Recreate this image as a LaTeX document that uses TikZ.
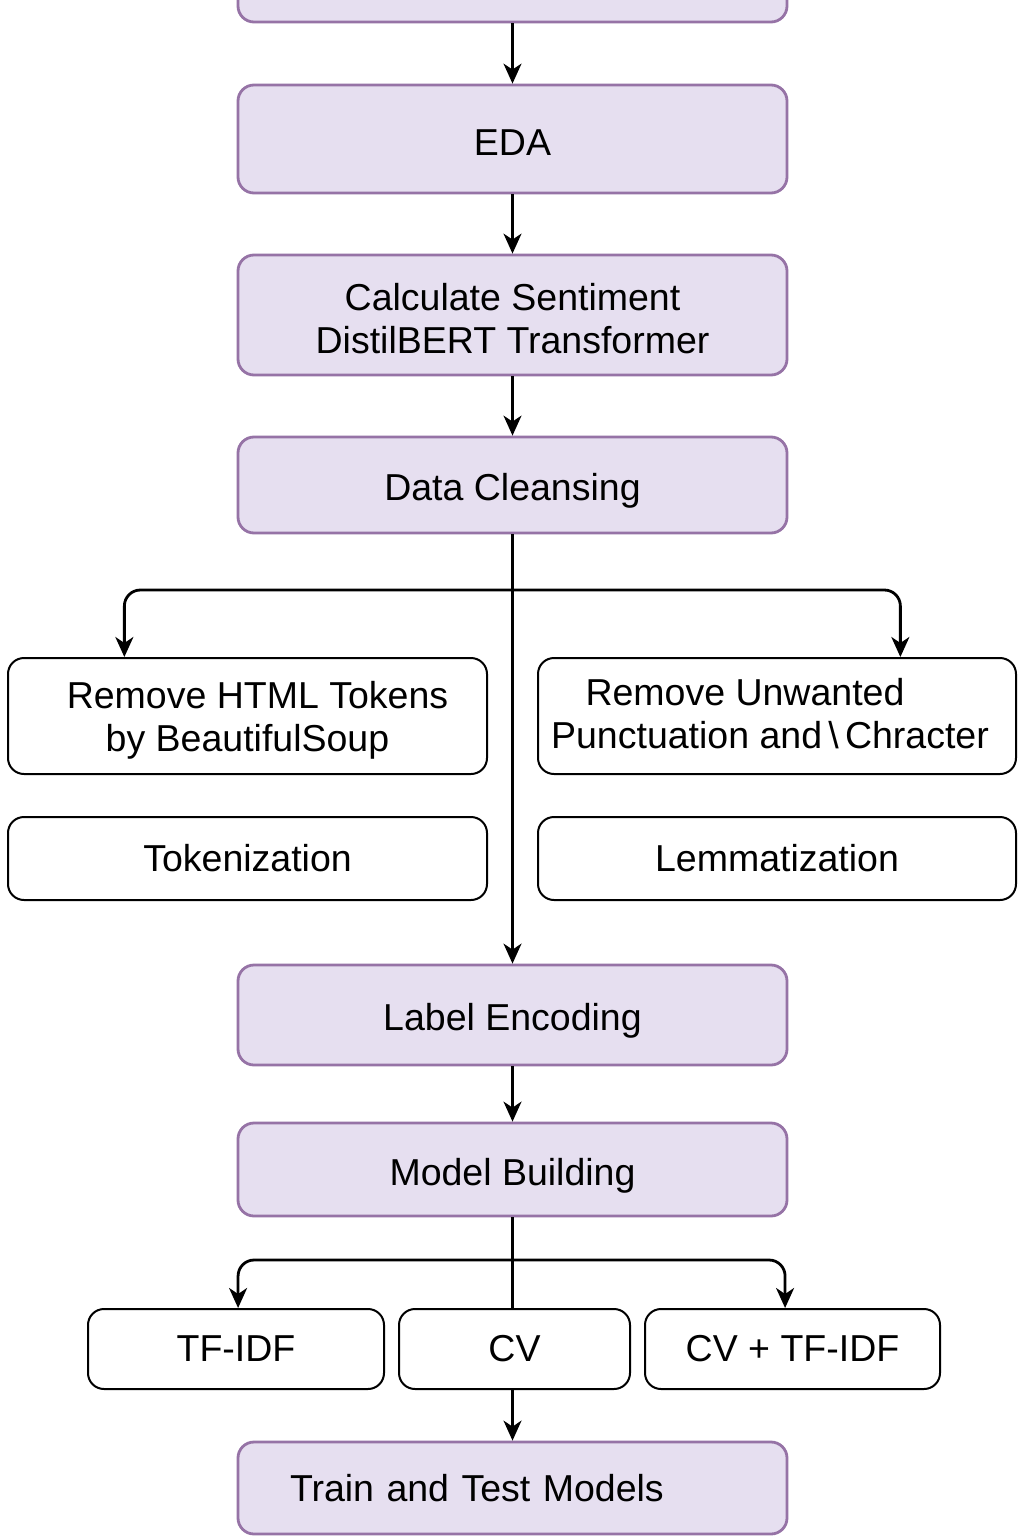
\documentclass[tikz,border=0pt]{standalone}
\usepackage{fontspec}
\setmainfont{Liberation Sans}
\usetikzlibrary{arrows.meta,calc}
\definecolor{pfill}{HTML}{E6DFF0}
\definecolor{pdraw}{HTML}{9673A6}
\begin{document}
\begin{tikzpicture}[x=0.5pt,y=-0.5pt,
  txt/.style={font=\fontsize{18.75}{21.5}\selectfont, align=center, inner sep=0pt},
  pbox/.style={txt, draw=pdraw, fill=pfill, line width=1.4pt, rounded corners=8pt, minimum width=274.5pt},
  wbox/.style={txt, draw=black, fill=white, line width=1pt, rounded corners=8pt},
  lbl/.style 2 args={label={[txt,yshift=#1]center:#2}},
  link/.style={line width=1.1pt},
  conn/.style={link, -{Stealth[length=10pt,width=9pt,inset=3pt]}},
  branch/.style={conn, line width=1.4pt, rounded corners=8pt}]
\useasboundingbox (0,0) rectangle (1024,1536);
\clip (0,0) rectangle (1024,1536);
\fill[white] (0,0) rectangle (1024,1536);

\node[pbox, minimum height=62pt] (top) at (512.5,-40) {};
\node[pbox, minimum height=54pt, lbl={-2pt}{EDA}] (eda) at (512.5,139) {};
\node[pbox, minimum height=60pt, lbl={-2pt}{Calculate Sentiment\\DistilBERT Transformer}] (calc) at (512.5,315) {};
\node[pbox, minimum height=48pt, lbl={-3pt}{Data Cleansing}] (clean) at (512.5,485) {};

\node[wbox, minimum width=239.5pt, minimum height=58pt, lbl={-2pt}{\hspace*{10pt}Remove HTML Tokens\\by BeautifulSoup}] (html) at (247.5,716) {};
\node[wbox, minimum width=239pt, minimum height=58pt, lbl={1pt}{Remove Unwanted\hspace*{32pt}\\Punctuation and\,\textbackslash\,Chracter\hspace*{7pt}}] (punct) at (777,716) {};
\node[wbox, minimum width=239.5pt, minimum height=41.5pt] (tok) at (247.5,858.5) {Tokenization};
\node[wbox, minimum width=239pt, minimum height=41.5pt] (lem) at (777,858.5) {Lemmatization};

\node[pbox, minimum height=50pt, lbl={-3pt}{Label Encoding}] (label) at (512.5,1015) {};
\node[pbox, minimum height=46.5pt, lbl={-3pt}{Model Building}] (model) at (512.5,1169.5) {};

\node[wbox, minimum width=148pt, minimum height=40pt] (tfidf) at (236,1349) {TF-IDF};
\node[wbox, minimum width=115.5pt, minimum height=40pt] (cv) at (514.5,1349) {CV};
\node[wbox, minimum width=147.5pt, minimum height=40pt] (cvtf) at (792.5,1349) {CV + TF-IDF};

\node[pbox, minimum height=46pt, text width=222.5pt, inner xsep=26pt, align=left] (train) at (512.5,1488) {Train and Test Models};

\draw[conn] (top) -- (eda);
\draw[conn] (eda) -- (calc);
\draw[conn] (calc) -- (clean);
\draw[conn] (clean.south) -- (label.north);
\coordinate (b1) at (512.5,590);
\draw[branch] (b1) -| ($(html.north west)!0.244!(html.north east)$);
\draw[branch] (b1) -| ($(punct.north west)!0.757!(punct.north east)$);
\draw[conn] (label) -- (model);
\draw[link] (model.south) -- (model.south |- cv.north);
\coordinate (b2) at (512.5,1260);
\draw[branch] (b2) -| ($(tfidf.north west)!0.507!(tfidf.north east)$);
\draw[branch] (b2) -| ($(cvtf.north west)!0.475!(cvtf.north east)$);
\draw[conn] (train.north |- cv.south) -- (train.north);
\end{tikzpicture}
\end{document}
